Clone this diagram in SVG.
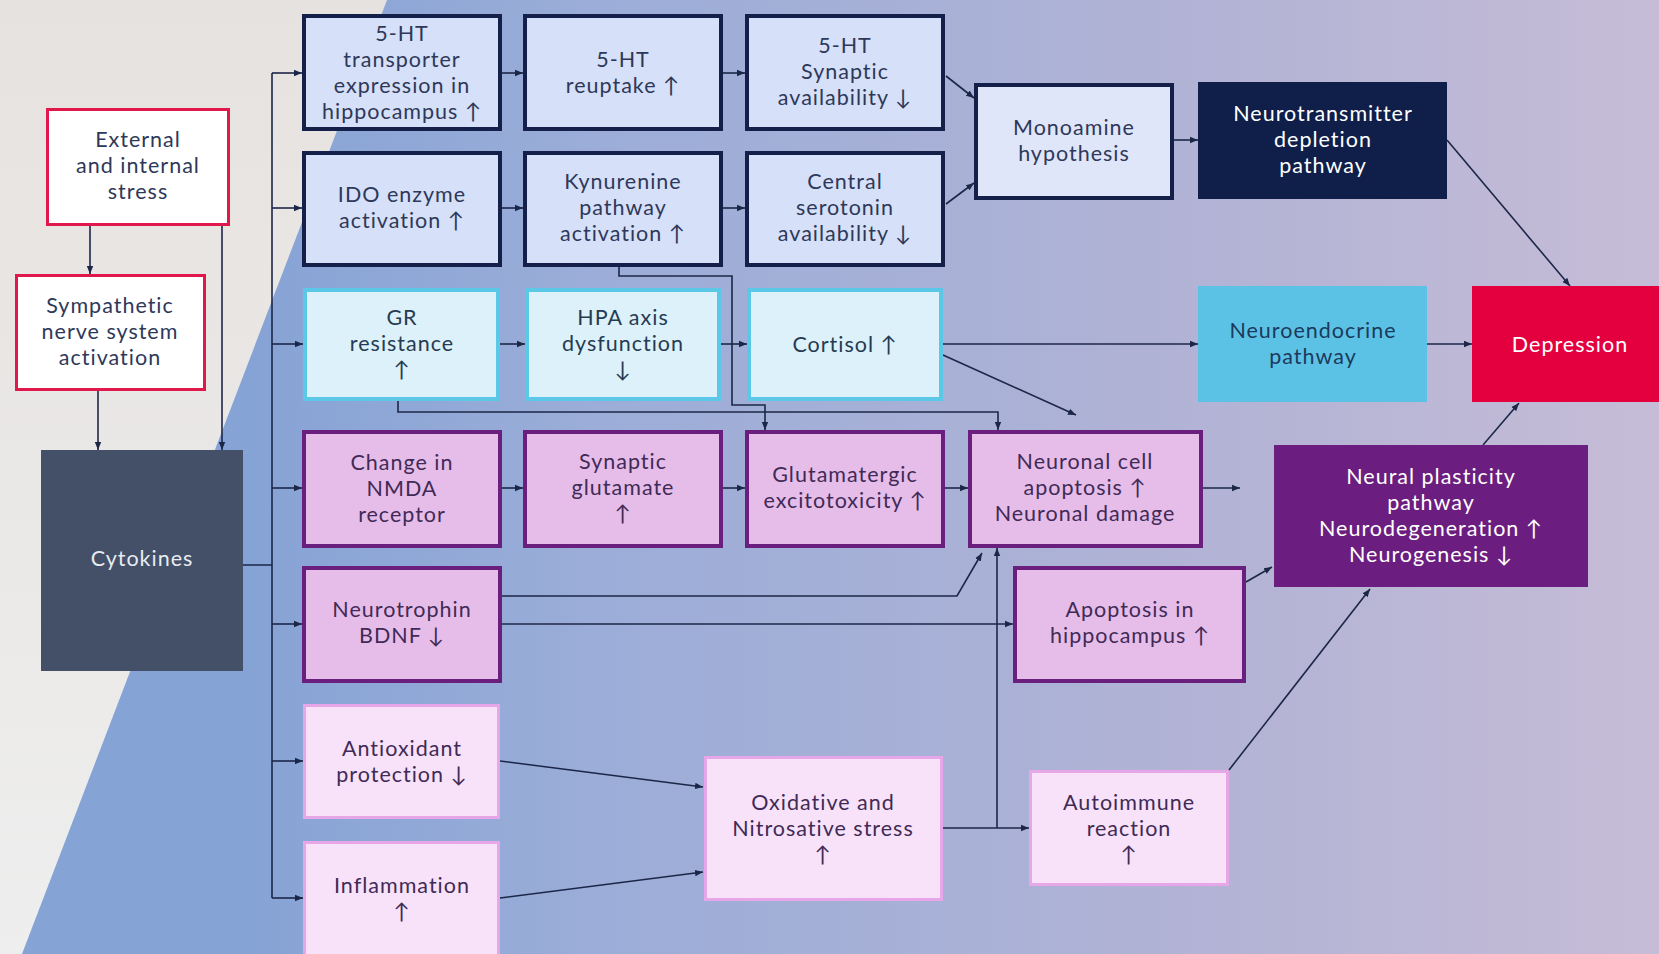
<svg xmlns="http://www.w3.org/2000/svg" width="1659" height="954" viewBox="0 0 1659 954">
<defs>
<linearGradient id="bg" gradientUnits="userSpaceOnUse" x1="250" y1="0" x2="1640" y2="0">
<stop offset="0" stop-color="#86a3d5"/>
<stop offset="0.245" stop-color="#9badd8"/>
<stop offset="0.74" stop-color="#b5b4d5"/>
<stop offset="1" stop-color="#c5bcd7"/>
</linearGradient>
<linearGradient id="lite" gradientUnits="userSpaceOnUse" x1="0" y1="0" x2="0" y2="954">
<stop offset="0" stop-color="#e6e2df"/>
<stop offset="1" stop-color="#eeeeee"/>
</linearGradient>
<marker id="ah" viewBox="0 0 10 10" refX="10" refY="5" markerWidth="8" markerHeight="8" markerUnits="userSpaceOnUse" orient="auto">
<path d="M0,1 L10,5 L0,9 z" fill="#1c2748"/>
</marker>
</defs>
<style>
.nv{fill:#d6e0f8;stroke:#14204a;stroke-width:4}
.cy{fill:#dcf1f9;stroke:#5cc8e8;stroke-width:4}
.pu{fill:#e6bde9;stroke:#6a1f7e;stroke-width:4}
.pk{fill:#f7e2f9;stroke:#e6a6e8;stroke-width:3}
.rd{fill:#ffffff;stroke:#e0184c;stroke-width:3}
text{font-family:Lato,'Open Sans','DejaVu Sans',sans-serif;font-size:21.5px;letter-spacing:1px;text-anchor:middle}
.tn{fill:#2e3859}
.tc{fill:#263b52}
.tp{fill:#412a56}
.tw{fill:#ffffff}
.cn path{fill:none;stroke:#1c2748;stroke-width:1.6}
.cn .a{marker-end:url(#ah)}
</style>
<rect x="0" y="0" width="1659" height="954" fill="url(#bg)"/>
<polygon points="0,0 387,0 22,954 0,954" fill="url(#lite)"/>

<g class="cn" id="connectors">
<path class="a" d="M90,226 V274"/>
<path class="a" d="M222,226 V450"/>
<path class="a" d="M98,391 V450"/>
<path d="M243,565 H272 M272,73 V898"/>
<path class="a" d="M272,73 H302"/>
<path class="a" d="M272,208 H302"/>
<path class="a" d="M272,344 H303"/>
<path class="a" d="M272,488 H302"/>
<path class="a" d="M272,624 H302"/>
<path class="a" d="M272,761 H303"/>
<path class="a" d="M272,898 H303"/>
<path class="a" d="M502,73 H523"/>
<path class="a" d="M723,73 H745"/>
<path class="a" d="M502,208 H523"/>
<path class="a" d="M723,208 H745"/>
<path class="a" d="M500,344 H525"/>
<path class="a" d="M721,344 H747"/>
<path class="a" d="M502,488 H523"/>
<path class="a" d="M723,488 H745"/>
<path class="a" d="M945,488 H968"/>
<path class="a" d="M946,76 L974,98"/>
<path class="a" d="M946,204 L974,183"/>
<path class="a" d="M1174,140 H1198"/>
<path class="a" d="M1447,140 L1570,286"/>
<path class="a" d="M943,344 H1198"/>
<path class="a" d="M1427,344 H1472"/>
<path class="a" d="M943,355 L1076,415"/>
<path class="a" d="M398,401 V412 H998 V430"/>
<path class="a" d="M619,267 V276 H732 V405 H765 V430"/>
<path class="a" d="M1203,488 H1240"/>
<path class="a" d="M502,596 H957 L982,553"/>
<path class="a" d="M502,624 H1013"/>
<path class="a" d="M500,761 L703,787"/>
<path class="a" d="M500,898 L703,872"/>
<path class="a" d="M943,828 H1029"/>
<path class="a" d="M997,828 V548"/>
<path class="a" d="M1246,582 L1272,567"/>
<path class="a" d="M1229,770 L1370,589"/>
<path class="a" d="M1483,445 L1519,403"/>
</g>

<g id="n-ext"><rect class="rd" x="47.5" y="109.5" width="181" height="115"/>
<text class="tn" x="138" y="147">External</text><text class="tn" x="138" y="173">and internal</text><text class="tn" x="138" y="199">stress</text></g>
<g id="n-sym"><rect class="rd" x="16.5" y="275.5" width="188" height="114"/>
<text class="tn" x="110" y="313">Sympathetic</text><text class="tn" x="110" y="339">nerve system</text><text class="tn" x="110" y="365">activation</text></g>
<g id="n-cyt"><rect x="41" y="450" width="202" height="221" fill="#435068"/>
<text class="tw" x="142" y="566" style="fill:#e8ebf0">Cytokines</text></g>

<g id="n-t1"><rect class="nv" x="304" y="16" width="196" height="113"/>
<text class="tn" x="402" y="41">5-HT</text><text class="tn" x="402" y="67">transporter</text><text class="tn" x="402" y="93">expression in</text><text class="tn" x="402" y="119">hippocampus ↑</text></g>
<g id="n-t2"><rect class="nv" x="525" y="16" width="196" height="113"/>
<text class="tn" x="623" y="67">5-HT</text><text class="tn" x="623" y="93">reuptake ↑</text></g>
<g id="n-t3"><rect class="nv" x="747" y="16" width="196" height="113"/>
<text class="tn" x="845" y="53">5-HT</text><text class="tn" x="845" y="79">Synaptic</text><text class="tn" x="845" y="105">availability ↓</text></g>
<g id="n-i1"><rect class="nv" x="304" y="153" width="196" height="112"/>
<text class="tn" x="402" y="202">IDO enzyme</text><text class="tn" x="402" y="228">activation ↑</text></g>
<g id="n-i2"><rect class="nv" x="525" y="153" width="196" height="112"/>
<text class="tn" x="623" y="189">Kynurenine</text><text class="tn" x="623" y="215">pathway</text><text class="tn" x="623" y="241">activation ↑</text></g>
<g id="n-i3"><rect class="nv" x="747" y="153" width="196" height="112"/>
<text class="tn" x="845" y="189">Central</text><text class="tn" x="845" y="215">serotonin</text><text class="tn" x="845" y="241">availability ↓</text></g>
<g id="n-mono"><rect class="nv" x="976" y="85" width="196" height="113" style="fill:#dfe6f9"/>
<text class="tn" x="1074" y="135">Monoamine</text><text class="tn" x="1074" y="161">hypothesis</text></g>
<g id="n-ntd"><rect x="1198" y="82" width="249" height="117" fill="#0f1f4a"/>
<text class="tw" x="1323" y="121">Neurotransmitter</text><text class="tw" x="1323" y="147">depletion</text><text class="tw" x="1323" y="173">pathway</text></g>

<g id="n-g1"><rect class="cy" x="305" y="290" width="193" height="109"/>
<text class="tc" x="402" y="325">GR</text><text class="tc" x="402" y="351">resistance</text><text class="tc" x="402" y="377">↑</text></g>
<g id="n-g2"><rect class="cy" x="527" y="290" width="192" height="109"/>
<text class="tc" x="623" y="325">HPA axis</text><text class="tc" x="623" y="351">dysfunction</text><text class="tc" x="623" y="377">↓</text></g>
<g id="n-g3"><rect class="cy" x="749" y="290" width="192" height="109"/>
<text class="tc" x="845" y="352">Cortisol ↑</text></g>
<g id="n-ne"><rect x="1198" y="286" width="229" height="116" fill="#5bc2e6"/>
<text class="tc" x="1313" y="338" style="fill:#1b3a5c">Neuroendocrine</text><text class="tc" x="1313" y="364" style="fill:#1b3a5c">pathway</text></g>
<g id="n-dep"><rect x="1472" y="286" width="190" height="116" fill="#e4003f"/>
<text class="tw" x="1570" y="352">Depression</text></g>

<g id="n-nmda"><rect class="pu" x="304" y="432" width="196" height="114"/>
<text class="tp" x="402" y="470">Change in</text><text class="tp" x="402" y="496">NMDA</text><text class="tp" x="402" y="522">receptor</text></g>
<g id="n-sg"><rect class="pu" x="525" y="432" width="196" height="114"/>
<text class="tp" x="623" y="469">Synaptic</text><text class="tp" x="623" y="495">glutamate</text><text class="tp" x="623" y="521">↑</text></g>
<g id="n-ge"><rect class="pu" x="747" y="432" width="196" height="114"/>
<text class="tp" x="845" y="482">Glutamatergic</text><text class="tp" x="845" y="508">excitotoxicity ↑</text></g>
<g id="n-nca"><rect class="pu" x="970" y="432" width="231" height="114"/>
<text class="tp" x="1085" y="469">Neuronal cell</text><text class="tp" x="1085" y="495">apoptosis ↑</text><text class="tp" x="1085" y="521">Neuronal damage</text></g>
<g id="n-np"><rect x="1274" y="445" width="314" height="142" fill="#6b1e7f"/>
<text class="tw" x="1431" y="484">Neural plasticity</text><text class="tw" x="1431" y="510">pathway</text><text class="tw" x="1431" y="536">Neurodegeneration ↑</text><text class="tw" x="1431" y="562">Neurogenesis ↓</text></g>
<g id="n-bdnf"><rect class="pu" x="304" y="568" width="196" height="113"/>
<text class="tp" x="402" y="617">Neurotrophin</text><text class="tp" x="402" y="643">BDNF ↓</text></g>
<g id="n-aih"><rect class="pu" x="1015" y="568" width="229" height="113"/>
<text class="tp" x="1130" y="617">Apoptosis in</text><text class="tp" x="1130" y="643">hippocampus ↑</text></g>

<g id="n-anti"><rect class="pk" x="304.5" y="705.5" width="194" height="112"/>
<text class="tp" x="402" y="756">Antioxidant</text><text class="tp" x="402" y="782">protection ↓</text></g>
<g id="n-infl"><rect class="pk" x="304.5" y="842.5" width="194" height="130"/>
<text class="tp" x="402" y="893">Inflammation</text><text class="tp" x="402" y="919">↑</text></g>
<g id="n-ox"><rect class="pk" x="705.5" y="757.5" width="236" height="142"/>
<text class="tp" x="823" y="810">Oxidative and</text><text class="tp" x="823" y="836">Nitrosative stress</text><text class="tp" x="823" y="862">↑</text></g>
<g id="n-auto"><rect class="pk" x="1030.5" y="771.5" width="197" height="113"/>
<text class="tp" x="1129" y="810">Autoimmune</text><text class="tp" x="1129" y="836">reaction</text><text class="tp" x="1129" y="862">↑</text></g>
</svg>
